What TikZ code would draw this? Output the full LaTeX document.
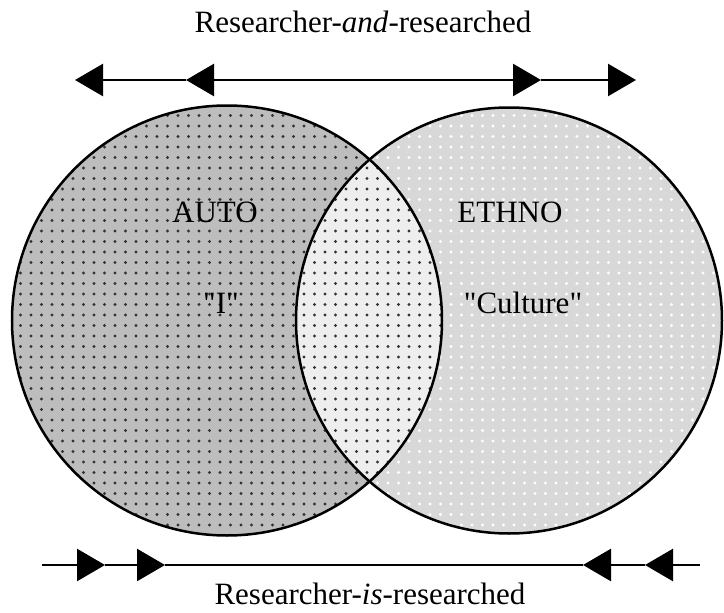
\documentclass[tikz,border=0pt]{standalone}
\usepackage{fontspec}
\setmainfont{Liberation Serif}
\usetikzlibrary{arrows.meta}
\definecolor{autogray}{HTML}{BDBDBD}
\definecolor{ethnogray}{HTML}{D8D8D8}
\definecolor{bothgray}{HTML}{EEEEEE}
\tikzset{
  lbl/.style={font=\fontsize{31}{36}\selectfont, inner sep=0pt},
  rim/.style={line width=2.5pt},
  axis/.style={line width=2.5pt, -{Triangle[length=28pt,width=32pt]}}
}

\begin{document}
\begin{tikzpicture}[x=1pt,y=-1pt]
  \useasboundingbox (0,0) rectangle (724,613);
  \coordinate (L) at (227,320.5);
  \coordinate (R) at (509,320.5);
  % fills
  \fill[autogray] (L) circle (215);
  \fill[ethnogray] (R) circle (213);
  \begin{scope}
    \clip (L) circle (215);
    \fill[bothgray] (R) circle (213);
  \end{scope}
  % dot screens
  \begin{scope}
    \clip (R) circle (213);
    \foreach \x in {283,293.5,...,724}
      \foreach \y in {105,115.5,...,545}
        \fill[white] (\x,\y) circle (1.6);
  \end{scope}
  \begin{scope}
    \clip (L) circle (215);
    \foreach \x in {10,20.5,...,450}
      \foreach \y in {105,115.5,...,545}
        \fill[black!80] (\x,\y) circle (1.6);
  \end{scope}
  \draw[rim] (L) circle (215);
  \draw[rim] (R) circle (213);

  \node[lbl] (auto) at (215,212) {AUTO};
  \node[lbl] (ethno) at (510,212) {ETHNO};
  \node[lbl] (me) at (221,303) {\textquotedbl I\textquotedbl};
  \node[lbl] (culture) at (523,303) {\textquotedbl Culture\textquotedbl};

  % top arrows
  \coordinate (ta) at (75,80);
  \coordinate (tb) at (186,80);
  \coordinate (tm) at (360,80);
  \coordinate (tc) at (541,80);
  \coordinate (td) at (636,80);
  \draw[axis] (tm) -- (tb);
  \draw[axis] (tb) -- (ta);
  \draw[axis] (tm) -- (tc);
  \draw[axis] (tc) -- (td);
  \node[lbl] (ttl) at (363,22) {Researcher-\textit{and}-researched};

  % bottom arrows
  \coordinate (ba) at (42,565);
  \coordinate (bb) at (105,565);
  \coordinate (bc) at (165,565);
  \coordinate (bd) at (583,565);
  \coordinate (be) at (645,565);
  \coordinate (bf) at (700,565);
  \draw[axis] (ba) -- (bb);
  \draw[axis] (bb) -- (bc);
  \draw[rim] (bc) -- (bd);
  \draw[axis] (bf) -- (be);
  \draw[axis] (be) -- (bd);
  \node[lbl] (btm) at (370,594) {Researcher-\textit{is}-researched};
\end{tikzpicture}
\end{document}
